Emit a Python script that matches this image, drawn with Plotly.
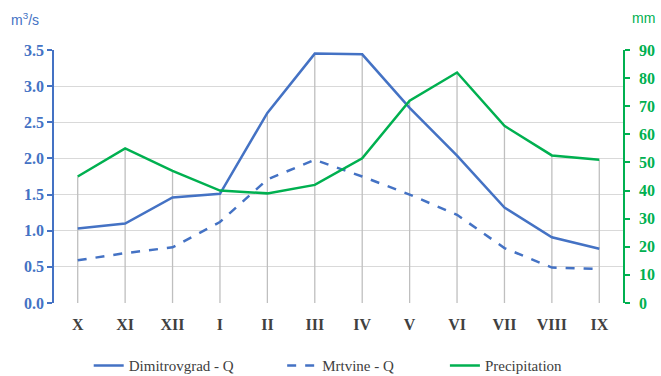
import plotly.graph_objects as go

months = ["X", "XI", "XII", "I", "II", "III", "IV", "V", "VI", "VII", "VIII", "IX"]
dimitrovgrad_q = [1.03, 1.10, 1.46, 1.51, 2.63, 3.45, 3.44, 2.70, 2.04, 1.32, 0.91, 0.75]
mrtvine_q = [0.59, 0.69, 0.77, 1.12, 1.71, 1.98, 1.75, 1.50, 1.22, 0.76, 0.49, 0.47]
precipitation = [45, 55, 47, 40, 39, 42, 51.5, 72, 82, 63, 52.5, 51]

LEFT_MAX = 3.5
RIGHT_MAX = 90
BLUE = "#4472C4"
GREEN = "#00B050"
SERIF = "Liberation Serif, Times New Roman, serif"
SANS = "Liberation Sans, Arial, sans-serif"

# drop lines: from 0 up to the highest series point at each month (in left-axis units)
drop_x, drop_y = [], []
for i, m in enumerate(months):
    top = max(dimitrovgrad_q[i], mrtvine_q[i], precipitation[i] * LEFT_MAX / RIGHT_MAX)
    drop_x += [m, m, None]
    drop_y += [0, top, None]

fig = go.Figure()
fig.add_trace(go.Scatter(x=drop_x, y=drop_y, mode="lines",
                         line=dict(color="#BFBFBF", width=1.3),
                         showlegend=False, hoverinfo="skip"))
fig.add_trace(go.Scatter(x=months, y=dimitrovgrad_q, name="Dimitrovgrad - Q",
                         mode="lines", line=dict(color=BLUE, width=2.5), legend="legend"))
fig.add_trace(go.Scatter(x=months, y=mrtvine_q, name="Mrtvine - Q",
                         mode="lines", line=dict(color=BLUE, width=2.5, dash="dash"),
                         legend="legend2"))
fig.add_trace(go.Scatter(x=months, y=precipitation, name="Precipitation", yaxis="y2",
                         mode="lines", line=dict(color=GREEN, width=2.5), legend="legend3"))

legend_common = dict(orientation="h", y=-0.183, yanchor="top", xanchor="left",
                     font=dict(family=SERIF, size=15, color="#404040"),
                     bgcolor="rgba(0,0,0,0)")

fig.update_layout(
    width=661, height=376,
    margin=dict(l=54, r=38, t=50, b=73, autoexpand=False),
    plot_bgcolor="white", paper_bgcolor="white",
    xaxis=dict(type="category", range=[-0.5, 11.5], showgrid=False, showline=False,
               ticks="", automargin=False, ticklabelstandoff=10,
               tickfont=dict(family=SERIF, size=16, color="#404040", weight="bold"),
               zeroline=False),
    yaxis=dict(range=[0, LEFT_MAX], dtick=0.5, tickformat=".1f", automargin=False,
               showgrid=True, gridcolor="#D9D9D9", gridwidth=1.3,
               showline=True, linecolor=BLUE, linewidth=1.5,
               ticks="outside", ticklen=5, tickcolor=BLUE, tickwidth=1.5,
               tickfont=dict(family=SERIF, size=16, color=BLUE, weight="bold"),
               zeroline=False),
    yaxis2=dict(range=[0, RIGHT_MAX], dtick=10, overlaying="y", side="right",
                automargin=False, showgrid=False, ticklabelstandoff=6,
                showline=True, linecolor=GREEN, linewidth=1.5,
                ticks="outside", ticklen=5, tickcolor=GREEN, tickwidth=1.5,
                tickfont=dict(family=SERIF, size=16, color=GREEN, weight="bold"),
                zeroline=False),
    legend=dict(x=0.061, **legend_common),
    legend2=dict(x=0.401, **legend_common),
    legend3=dict(x=0.687, **legend_common),
    font=dict(family=SERIF),
    showlegend=True,
)
fig.add_annotation(text="m<sup>3</sup>/s", xref="paper", yref="paper", x=-0.079, y=1.165,
                   xanchor="left", yanchor="top", showarrow=False,
                   font=dict(family=SANS, size=14, color=BLUE))
fig.add_annotation(text="mm", xref="paper", yref="paper", x=1.06, y=1.165,
                   xanchor="right", yanchor="top", showarrow=False,
                   font=dict(family=SANS, size=14, color=GREEN))

fig.write_html("out.html", config={"displayModeBar": False},
               post_script="document.body.style.margin='0';")
